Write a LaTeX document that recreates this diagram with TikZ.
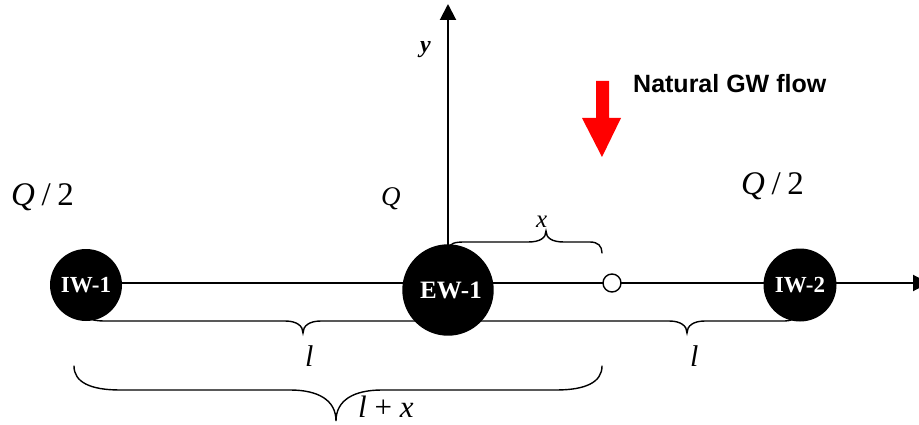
\documentclass[tikz,border=0pt]{standalone}
\usepackage{fontspec}
\setmainfont{Liberation Serif}
\newfontfamily\sansfnt{Liberation Sans}
\usetikzlibrary{arrows.meta}
\pgfdeclarelayer{bg}
\pgfsetlayers{bg,main}
\begin{document}
\begin{tikzpicture}[x=1pt,y=-1pt,
  well/.style={circle, fill=black, text=white, inner sep=0pt},
  bracepath/.style={line width=1.4pt, line cap=round},
  axisline/.style={line width=2pt, -{Triangle[width=16pt,length=16pt]}},
  lbl/.style={inner sep=0pt, anchor=base west},
  bigmath/.style={font=\fontsize{33}{33}\selectfont},
  midmath/.style={font=\fontsize{27}{27}\selectfont}]
\clip (0,0) rectangle (919,425);
% wells
\node[well, minimum size=72pt, font=\bfseries\fontsize{23}{23}\selectfont] (IW1) at (86,285) {IW-1};
\node[well, minimum size=90pt, font=\bfseries\fontsize{25}{25}\selectfont, text width=90pt, align=center] (EW1) at (448,290) {\hspace*{6pt}EW-1};
\node[well, minimum size=73pt, font=\bfseries\fontsize{23}{23}\selectfont] (IW2) at (800,285) {IW-2};
\node[circle, draw, fill=white, line width=1.4pt, minimum size=18pt, inner sep=0pt] (obs) at (612,283) {};
\coordinate (xend) at (929,283);
\coordinate (yend) at (448,4);
% axes and braces on background
\begin{pgfonlayer}{bg}
\draw[axisline] (IW1.center |- xend) -- (xend);
\draw[axisline] (EW1.center) -- (yend);
% x brace
\draw[bracepath] (448,249) .. controls (450,243) and (455,242) .. (465,242) -- (528,242)
  .. controls (540,242) and (546,238) .. (546,231)
  .. controls (546,238) and (552,242) .. (564,242) -- (590,242)
  .. controls (598,242) and (602,246) .. (602,253);
% brace l (1)
\draw[bracepath] (86,316) .. controls (90,320) and (96,321) .. (106,321) -- (285,321)
  .. controls (297,321) and (303,326) .. (303,333)
  .. controls (303,326) and (309,321) .. (321,321) -- (420,321)
  .. controls (430,321) and (434,318) .. (436,312);
% brace l (2)
\draw[bracepath] (460,312) .. controls (463,318) and (468,321) .. (480,321) -- (669,321)
  .. controls (681,321) and (687,326) .. (687,333)
  .. controls (687,326) and (693,321) .. (705,321) -- (785,321)
  .. controls (792,321) and (796,318) .. (798,313);
% brace l+x
\draw[bracepath] (74,366) .. controls (74,382) and (90,390) .. (120,390) -- (290,390)
  .. controls (318,390) and (336,400) .. (336,421)
  .. controls (336,400) and (354,390) .. (382,390) -- (556,390)
  .. controls (586,390) and (602,382) .. (602,366);
\end{pgfonlayer}
% natural flow arrow
\fill[red] (596,81) -- (609,81) -- (609,118) -- (621,118) -- (602,157) -- (582,118) -- (596,118) -- cycle;
\node[lbl, font=\sansfnt\bfseries\fontsize{25}{25}\selectfont] (flow) at (633,93) {Natural GW flow};
% labels
\node[lbl, bigmath] (q1) at (11,205) {\textit{Q}\hspace{0.2em}/\hspace{0.2em}2};
\node[lbl, midmath] (q0) at (381,205) {\textit{Q}};
\node[lbl, bigmath] (q2) at (741,194) {\textit{Q}\hspace{0.2em}/\hspace{0.2em}2};
\node[lbl, font=\bfseries\itshape\fontsize{24}{24}\selectfont] (ylab) at (420,53) {y};
\node[lbl, font=\itshape\fontsize{25}{25}\selectfont] (xlab) at (536,227) {x};
\node[lbl, font=\itshape\fontsize{30}{30}\selectfont] (l1) at (305,366) {l};
\node[lbl, font=\itshape\fontsize{30}{30}\selectfont] (l2) at (690,366) {l};
\node[lbl, font=\fontsize{31}{31}\selectfont] (lx) at (358,417) {\textit{l} + \textit{x}};
\end{tikzpicture}
\end{document}
